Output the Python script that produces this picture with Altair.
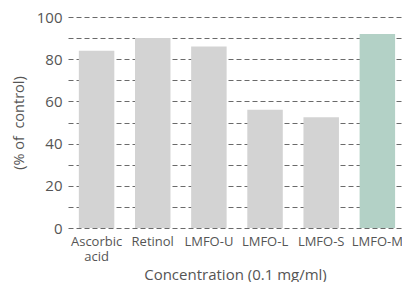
import altair as alt
import pandas as pd

categories = ["Ascorbic acid", "Retinol", "LMFO-U", "LMFO-L", "LMFO-S", "LMFO-M"]
values = [84, 90, 86, 56, 52.5, 92]
groups = ["ref", "ref", "ref", "ref", "ref", "hl"]

df = pd.DataFrame({"cat": categories, "val": values, "grp": groups})

FONT = "Open Sans"
TXT = "#555555"

chart = alt.Chart(df).mark_bar().encode(
    x=alt.X("cat:N", sort=categories,
            scale=alt.Scale(paddingInner=0.368, paddingOuter=0.158, align=0.611),
            axis=alt.Axis(title="Concentration (0.1 mg/ml)", labelAngle=0,
                          labelExpr="split(datum.label, ' ')",
                          ticks=False, domain=False, labelPadding=7,
                          labelFontSize=13, titleFontSize=15, titlePadding=4,
                          labelColor=TXT, titleColor=TXT, labelFont=FONT, titleFont=FONT,
                          titleFontWeight="normal", labelLineHeight=15)),
    y=alt.Y("val:Q", scale=alt.Scale(domain=[0, 100]),
            axis=alt.Axis(title="(% of\u00a0 control)", values=list(range(0, 101, 10)),
                          labelExpr="datum.value % 20 == 0 ? datum.label : ''",
                          ticks=False, domain=False, labelPadding=6,
                          grid=True, gridDash=[5, 3], gridColor="#6a6a6a", gridWidth=1,
                          labelFontSize=15, titleFontSize=14.5, titlePadding=10,
                          labelColor=TXT, titleColor=TXT, labelFont=FONT, titleFont=FONT,
                          titleFontWeight="normal")),
    color=alt.Color("grp:N", scale=alt.Scale(domain=["ref", "hl"], range=["#d3d3d3", "#b3d1c6"]),
                    legend=None),
).properties(
    width=394, height=274,
    autosize=alt.AutoSizeParams(type="fit", contains="padding"),
    padding={"left": 3, "top": 2, "right": 0, "bottom": 0},
).configure_view(stroke=None)

chart.save("out.html", embed_options={"renderer": "svg", "actions": False})
